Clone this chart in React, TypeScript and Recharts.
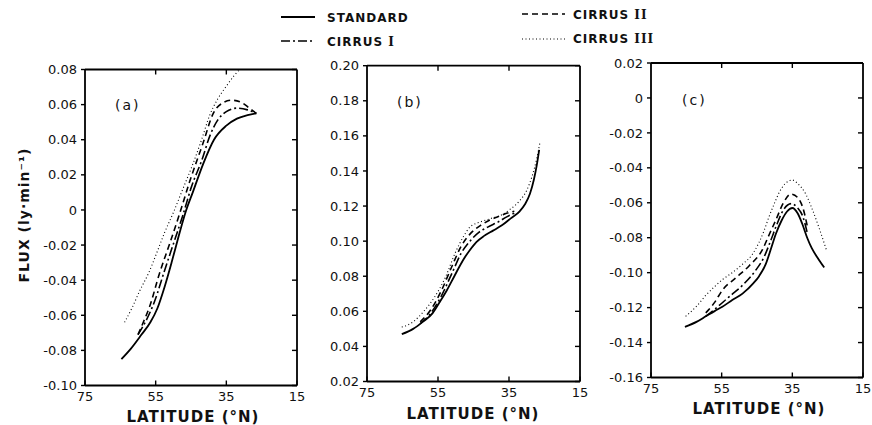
import React from 'react';
import { LineChart, Line, XAxis, YAxis } from 'recharts';

// ---------- ticks ----------
const latTicks = [75, 55, 35, 15];
const innerLatTicks = [55, 35];
const fluxTicksA = [0.08, 0.06, 0.04, 0.02, 0, -0.02, -0.04, -0.06, -0.08, -0.1];
const fluxTicksB = [0.2, 0.18, 0.16, 0.14, 0.12, 0.1, 0.08, 0.06, 0.04, 0.02];
const fluxTicksC = [0.02, 0, -0.02, -0.04, -0.06, -0.08, -0.1, -0.12, -0.14, -0.16];

// ---------- series: [latitude °N, flux ly·min⁻¹] ----------
// Panel (a)
const aStandard = [[64.7, -0.085], [62, -0.079], [59, -0.071], [56.5, -0.064], [54.5, -0.056], [52.5, -0.044], [50.5, -0.03], [48.5, -0.015], [46.5, -0.001], [44.5, 0.01], [41.6, 0.026], [38.5, 0.04], [35, 0.048], [32, 0.052], [29, 0.054], [26.5, 0.055]];
const aCirrus1 = [[60, -0.071], [58.5, -0.066], [55.3, -0.052], [52.4, -0.034], [49.6, -0.017], [47.3, -0.003], [44.9, 0.013], [42, 0.028], [39.5, 0.043], [37.5, 0.051], [35, 0.056], [32, 0.058], [29, 0.057], [26.5, 0.055]];
const aCirrus2 = [[60, -0.071], [58.5, -0.064], [56.7, -0.055], [53.9, -0.036], [51, -0.019], [48.2, -0.002], [45.4, 0.016], [41.6, 0.038], [38.7, 0.055], [36, 0.061], [33.5, 0.0625], [30.5, 0.061], [28.5, 0.058], [26.5, 0.055]];
const aCirrus3 = [[63.8, -0.064], [61.5, -0.055], [59.5, -0.046], [57, -0.036], [54.8, -0.025], [52.5, -0.013], [50.1, -0.002], [47.3, 0.012], [44.5, 0.026], [42, 0.04], [39.7, 0.054], [37.5, 0.063], [35, 0.0705], [33, 0.076], [31.2, 0.08], [29, 0.083]];
// Panel (b)
const bStandard = [[65.2, 0.047], [62, 0.05], [59.3, 0.054], [56.5, 0.059], [54.6, 0.065], [52.5, 0.072], [50.4, 0.08], [48, 0.089], [46, 0.095], [44.2, 0.0995], [42, 0.103], [39.5, 0.106], [37, 0.109], [34.5, 0.113], [32, 0.117], [30.5, 0.121], [29.1, 0.127], [28, 0.135], [27.2, 0.143], [26.5, 0.152]];
const bCirrus1 = [[60, 0.053], [57, 0.059], [54, 0.069], [51, 0.082], [48.5, 0.093], [46, 0.1], [43.5, 0.105], [41, 0.108], [38, 0.111], [35.5, 0.114], [33.5, 0.116]];
const bCirrus2 = [[60, 0.054], [57, 0.061], [54, 0.072], [51, 0.086], [48.5, 0.097], [46, 0.104], [43, 0.109], [40.4, 0.112], [38, 0.114], [35.5, 0.116], [33.5, 0.117]];
const bCirrus3 = [[65.2, 0.051], [62, 0.054], [59, 0.06], [56, 0.068], [53, 0.079], [50, 0.094], [48, 0.102], [46, 0.108], [43, 0.111], [40, 0.113], [37, 0.115], [34.8, 0.118], [32, 0.123], [30, 0.129], [28.5, 0.137], [27.3, 0.146], [26.3, 0.156]];
// Panel (c)
const cStandard = [[65.4, -0.131], [62, -0.128], [59.5, -0.125], [57, -0.122], [54.8, -0.1195], [52, -0.1157], [49.1, -0.112], [46, -0.106], [44.4, -0.102], [42.5, -0.095], [41, -0.086], [39.7, -0.078], [38, -0.07], [36.5, -0.065], [35, -0.063], [33.5, -0.066], [32.2, -0.072], [30.8, -0.08], [29.5, -0.086], [28, -0.091], [26, -0.097]];
const cCirrus1 = [[59.5, -0.125], [57, -0.121], [53, -0.114], [49, -0.107], [45.5, -0.099], [43, -0.091], [41, -0.081], [39.5, -0.073], [37.5, -0.064], [35.3, -0.0605], [33.5, -0.063], [32, -0.068], [30.8, -0.077]];
const cCirrus2 = [[59.5, -0.123], [57, -0.117], [54.8, -0.11], [51, -0.103], [47.2, -0.096], [43.5, -0.087], [41.5, -0.078], [39.7, -0.07], [37.5, -0.06], [35.4, -0.055], [33.5, -0.057], [32, -0.063], [30.8, -0.073]];
const cCirrus3 = [[65.2, -0.125], [62, -0.119], [59.5, -0.113], [57, -0.108], [54.8, -0.104], [52, -0.1], [49, -0.095], [46.5, -0.09], [44.5, -0.083], [43, -0.076], [41.6, -0.068], [40, -0.06], [38.7, -0.054], [37, -0.049], [35, -0.047], [33.5, -0.049], [31.2, -0.055], [29.5, -0.063], [27.5, -0.074], [25.2, -0.088]];

const toRows = (pts: number[][]) => pts.map(([lat, v]) => ({ lat, v }));

const W = 872;
const H = 425;
const FONT = '"DejaVu Sans", Verdana, sans-serif';
const INK = '#111';

const styles = {
  standard: { strokeWidth: 1.8, dash: undefined as string | undefined },
  cirrus1: { strokeWidth: 1.6, dash: '9 3 2 3' },
  cirrus2: { strokeWidth: 1.6, dash: '6 4' },
  cirrus3: { strokeWidth: 1.1, dash: '1 2.5' },
};

type Box = { l: number; r: number; t: number; b: number };

const fmt = (v: number) => (Math.abs(v) < 1e-9 ? '0' : v.toFixed(2));

function Panel({ box, domain, ticks, series }: { box: Box; domain: number[]; ticks: number[]; series: number[][][] }) {
  const wL = 60, wR = 2, hT = 2, hB = 30;
  const margin = { left: box.l - wL, right: W - box.r - wR, top: box.t - hT, bottom: H - box.b - hB };
  const keys = ['standard', 'cirrus1', 'cirrus2', 'cirrus3'] as const;
  const axisLine = { stroke: '#000', strokeWidth: 1.8 };
  const tickLine = { stroke: '#000', strokeWidth: 1.4 };
  const tickStyle = { fill: INK, fontSize: 13, fontFamily: FONT };
  return (
    <div style={{ position: 'absolute', left: 0, top: 0 }}>
      <LineChart width={W} height={H} margin={margin}>
        <XAxis xAxisId="b" orientation="bottom" type="number" dataKey="lat" domain={[15, 75]} reversed ticks={latTicks} interval={0}
          allowDataOverflow height={hB} tickSize={-5} tickMargin={11} axisLine={axisLine} tickLine={tickLine} tick={tickStyle} />
        <XAxis xAxisId="t" orientation="top" type="number" dataKey="lat" domain={[15, 75]} reversed ticks={innerLatTicks} interval={0}
          allowDataOverflow height={hT} tickSize={-5} tickFormatter={() => ''} axisLine={axisLine} tickLine={tickLine} />
        <YAxis yAxisId="l" orientation="left" type="number" domain={domain} ticks={ticks} interval={0} allowDataOverflow width={wL}
          tickSize={4} tickMargin={4} tickFormatter={fmt} axisLine={axisLine} tickLine={tickLine} tick={tickStyle} />
        <YAxis yAxisId="r" orientation="right" type="number" domain={domain} ticks={ticks} interval={0} allowDataOverflow width={wR}
          tickSize={-5} tickFormatter={() => ''} axisLine={axisLine} tickLine={tickLine} />
        {series.map((pts, i) => {
          const s = styles[keys[i]];
          return (
            <Line key={keys[i]} xAxisId="b" yAxisId="l" data={toRows(pts)} dataKey="v" type="monotone" stroke="#000"
              strokeWidth={s.strokeWidth} strokeDasharray={s.dash} dot={false} activeDot={false} isAnimationActive={false} />
          );
        })}
      </LineChart>
    </div>
  );
}

function Overlay() {
  const lbl = { fontFamily: FONT, fill: INK };
  const serif = '"DejaVu Serif", "Liberation Serif", serif';
  const legendText = { ...lbl, fontSize: 12, fontWeight: 700, letterSpacing: 1 } as const;
  const xt = { ...lbl, fontSize: 15, fontWeight: 700, letterSpacing: 1, textAnchor: 'middle' } as const;
  return (
    <svg width={W} height={H} style={{ position: 'absolute', left: 0, top: 0, pointerEvents: 'none' }}>
      {/* legend */}
      <line x1={281} x2={315} y1={17} y2={17} stroke="#000" strokeWidth={1.8} />
      <text x={327} y={22} {...legendText}>STANDARD</text>
      <line x1={281} x2={315} y1={41} y2={41} stroke="#000" strokeWidth={1.6} strokeDasharray="9 3 2 3" />
      <text x={327} y={46} {...legendText}>CIRRUS <tspan fontFamily={serif}>I</tspan></text>
      <line x1={522} x2={565} y1={14} y2={14} stroke="#000" strokeWidth={1.6} strokeDasharray="6 4" />
      <text x={573} y={19} {...legendText}>CIRRUS <tspan fontFamily={serif}>II</tspan></text>
      <line x1={522} x2={566} y1={39} y2={39} stroke="#000" strokeWidth={1.1} strokeDasharray="1 2.5" />
      <text x={573} y={43} {...legendText}>CIRRUS <tspan fontFamily={serif}>III</tspan></text>

      {/* panel letters */}
      <text x={115} y={110} {...lbl} fontSize={14} letterSpacing={2}>(a)</text>
      <text x={397} y={107} {...lbl} fontSize={14} letterSpacing={2}>(b)</text>
      <text x={682} y={105} {...lbl} fontSize={14} letterSpacing={2}>(c)</text>

      {/* axis titles */}
      <text x={193} y={422} {...xt}>LATITUDE (°N)</text>
      <text x={473} y={419} {...xt}>LATITUDE (°N)</text>
      <text x={759} y={414} {...xt}>LATITUDE (°N)</text>
      <text x={0} y={0} transform="translate(24,215) rotate(-90)" {...lbl} fontSize={14} fontWeight={700} letterSpacing={1}
        textAnchor="middle" dominantBaseline="central">FLUX (ly·min⁻¹)</text>
    </svg>
  );
}

export default function App() {
  return (
    <div style={{ position: 'absolute', left: 0, top: 0, width: W, height: H, background: '#fff' }}>
      <Panel box={{ l: 85, r: 297, t: 69.5, b: 385.5 }} domain={[-0.1, 0.08]} ticks={fluxTicksA} series={[aStandard, aCirrus1, aCirrus2, aCirrus3]} />
      <Panel box={{ l: 367, r: 580, t: 65.7, b: 381.5 }} domain={[0.02, 0.2]} ticks={fluxTicksB} series={[bStandard, bCirrus1, bCirrus2, bCirrus3]} />
      <Panel box={{ l: 651, r: 863, t: 63, b: 377.5 }} domain={[-0.16, 0.02]} ticks={fluxTicksC} series={[cStandard, cCirrus1, cCirrus2, cCirrus3]} />
      <Overlay />
    </div>
  );
}
